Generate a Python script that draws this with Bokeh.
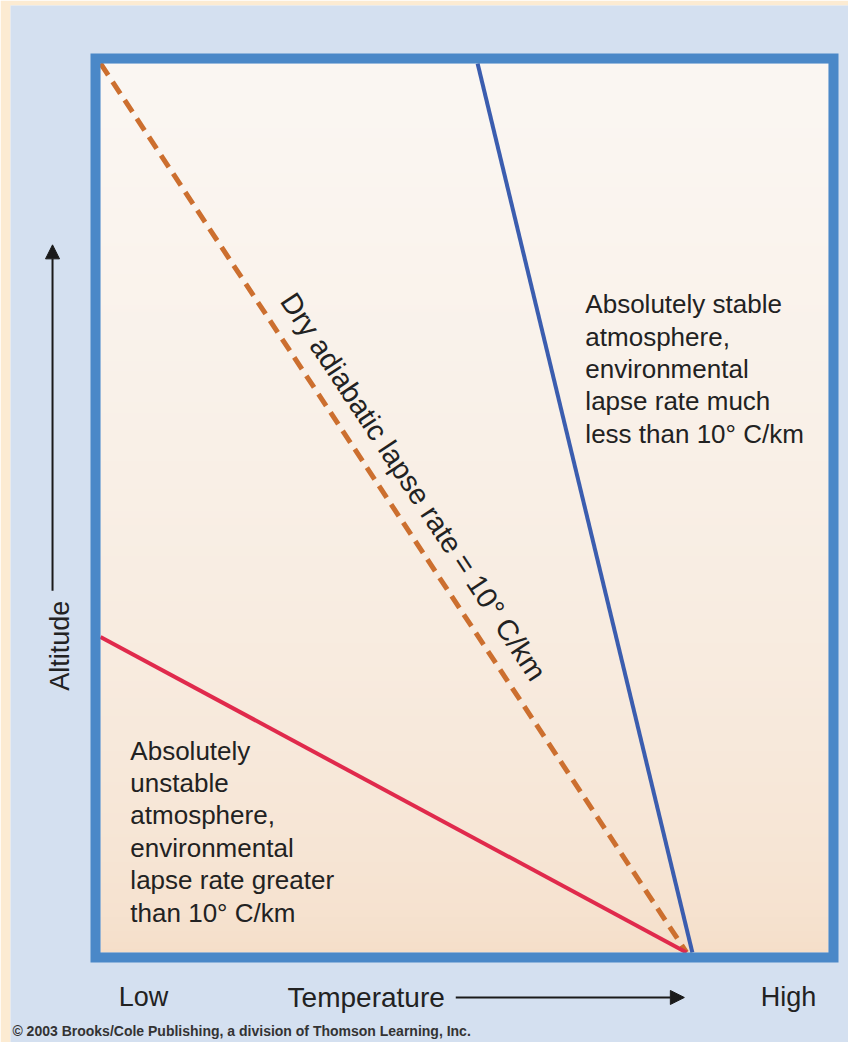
import math
import numpy as np
from bokeh.plotting import figure
from bokeh.models import Range1d, Arrow, NormalHead
from bokeh.core.properties import value
from bokeh.embed import file_html
from bokeh.resources import INLINE

# ---- Data (relative units: temperature 0..100 across the box, altitude 0..100) ----
dry_temp = [0.0, 80.5]
dry_alt = [100.0, 0.0]
stable_temp = [51.8, 81.3]
stable_alt = [100.0, 0.0]
unstable_temp = [0.0, 80.5]
unstable_alt = [35.5, 0.0]

temp_tick_labels = ["Low", "High"]
x_title = "Temperature"
y_title = "Altitude"
dry_label = "Dry adiabatic lapse rate = 10° C/km"
stable_label = ("Absolutely stable\natmosphere,\nenvironmental\n"
                "lapse rate much\nless than 10° C/km")
unstable_label = ("Absolutely\nunstable\natmosphere,\nenvironmental\n"
                  "lapse rate greater\nthan 10° C/km")
credit = "© 2003 Brooks/Cole Publishing, a division of Thomson Learning, Inc."

# ---- Figure ----
FW, FH = 838, 1037
xr = Range1d(-12.363, 102.747)
yr = Range1d(-10.124, 106.524)
p = figure(frame_width=FW, frame_height=FH, x_range=xr, y_range=yr,
           min_border_left=10, min_border_top=5, min_border_right=0, min_border_bottom=0,
           x_axis_location=None, y_axis_location=None,
           output_backend="svg", toolbar_location=None,
           border_fill_color="#FCEBD2", background_fill_color="#D4E0F0")
p.grid.visible = False
p.outline_line_color = None

# pixel scale factors (for text angle along the dashed line)
sx = FW / (xr.end - xr.start)
sy = FH / (yr.end - yr.start)

# ---- inner gradient background ----
n = 256
t = np.linspace(0, 1, n)[:, None] ** 0.55
top = np.array([0xFB, 0xF7, 0xF3], dtype=float)
bot = np.array([0xF5, 0xDE, 0xC8], dtype=float)
cols = bot + (top - bot) * t
img = np.empty((n, 1), dtype=np.uint32)
view = img.view(dtype=np.uint8).reshape((n, 1, 4))
view[:, :, 0] = cols[:, 0:1].astype(np.uint8)
view[:, :, 1] = cols[:, 1:2].astype(np.uint8)
view[:, :, 2] = cols[:, 2:3].astype(np.uint8)
view[:, :, 3] = 255
p.image_rgba(image=[img], x=0, y=0, dw=100, dh=100)

# ---- lines ----
p.line(dry_temp, dry_alt, line_color="#CC6F2F", line_width=5, line_dash="14 8")
p.line(stable_temp, stable_alt, line_color="#3B5DAF", line_width=4)
p.line(unstable_temp, unstable_alt, line_color="#E02A4C", line_width=4)

# ---- box border ----
p.quad(left=-0.687, right=100.687, bottom=-0.562, top=100.562,
       fill_color=None, line_color="#4A88C8", line_width=10, line_join="miter")

font = value("Liberation Sans")
txt_color = "#222222"

# dry adiabatic label along dashed line
ang = math.atan2((dry_alt[1] - dry_alt[0]) * sy, (dry_temp[1] - dry_temp[0]) * sx)
p.text(x=[43.0], y=[52.4], text=[dry_label], angle=ang, text_font=font,
       text_font_size="29px", text_color=txt_color,
       text_align="center", text_baseline="middle")

# block labels
p.text(x=[66.6], y=[74.6], text=[stable_label], text_font=font, text_font_size="26px",
       text_color=txt_color, text_align="left", text_baseline="top",
       text_line_height=1.08)
p.text(x=[4.1], y=[24.4], text=[unstable_label], text_font=font, text_font_size="26px",
       text_color=txt_color, text_align="left", text_baseline="top",
       text_line_height=1.08)

# axis-like labels
p.text(x=[5.9, 94.5], y=[-5.06, -5.06], text=temp_tick_labels, text_font=font,
       text_font_size="27px", text_color=txt_color, text_align="center",
       text_baseline="middle")
p.text(x=[25.7], y=[-5.06], text=[x_title], text_font=font, text_font_size="28px",
       text_color=txt_color, text_align="left", text_baseline="middle")
p.text(x=[-5.5], y=[34.5], text=[y_title], angle=math.pi / 2, text_font=font,
       text_font_size="27px", text_color=txt_color, text_align="center",
       text_baseline="middle")

# arrows
p.add_layout(Arrow(end=NormalHead(size=14, fill_color="#1a1a1a", line_color="#1a1a1a"),
                   x_start=48.8, y_start=-5.06, x_end=80.2, y_end=-5.06,
                   line_width=2, line_color="#1a1a1a"))
p.add_layout(Arrow(end=NormalHead(size=14, fill_color="#1a1a1a", line_color="#1a1a1a"),
                   x_start=-6.59, y_start=40.7, x_end=-6.59, y_end=79.6,
                   line_width=2, line_color="#1a1a1a"))

# credit line
p.text(x=[-12.1], y=[-8.8], text=[credit], text_font=font, text_font_size="14px",
       text_font_style="bold", text_color="#333333", text_align="left",
       text_baseline="middle")

open("out.html", "w").write(file_html(p, INLINE))
